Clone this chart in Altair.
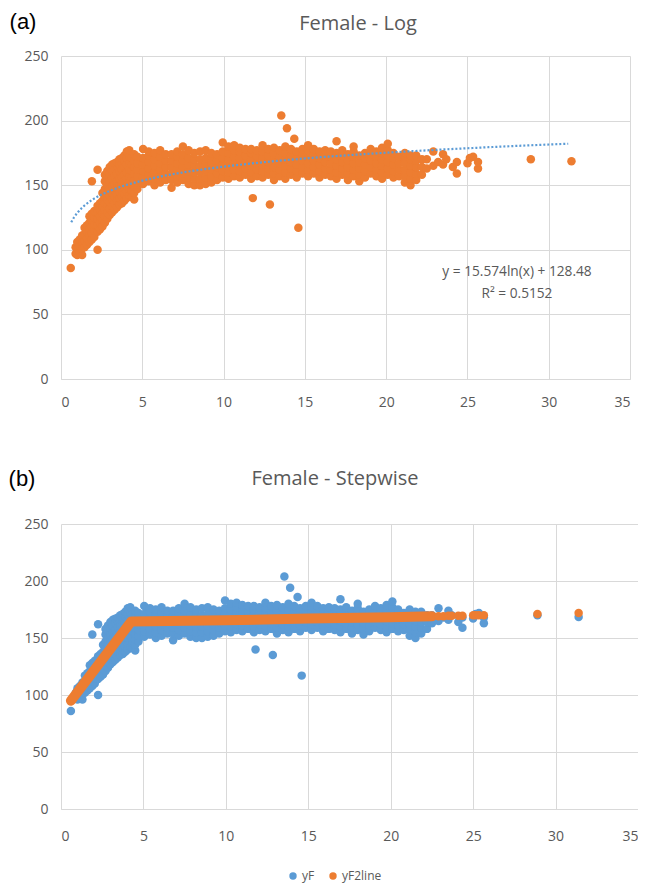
import altair as alt
import pandas as pd

BLUE = "#5B9BD5"
ORANGE = "#ED7D31"
GREY = "#595959"
GRID = "#D9D9D9"

RISE = [
    (0.6, [86]), (0.9, [97, 102]), (1.0, [96, 101, 106]), (1.15, [98, 103, 108]),
    (1.3, [96, 101, 106, 111]), (1.45, [102, 107, 112, 117]), (1.6, [104, 109, 114, 119]),
    (1.75, [106, 111, 116, 121, 126]), (1.9, [108, 113, 118, 123, 128, 153]),
    (2.05, [110, 115, 120, 125, 130]), (2.25, [100, 114, 119, 124, 129, 134, 162]),
    (2.4, [116, 121, 126, 131, 136]), (2.55, [118, 123, 128, 133, 138, 144]),
    (2.7, [121, 126, 131, 136, 141, 147, 153, 158]),
    (2.85, [124, 129, 134, 139, 144, 150, 156, 161]),
    (3.0, [127, 132, 137, 142, 147, 153, 159, 164]),
    (3.15, [129, 134, 139, 144, 149, 155, 161, 166]),
    (3.3, [131, 136, 141, 146, 151, 157, 163, 167]),
    (3.45, [133, 138, 143, 148, 153, 159, 165, 168]),
    (3.6, [135, 140, 145, 150, 155, 161, 166, 170]),
    (3.75, [136, 141, 146, 151, 156, 162, 167, 171]),
    (3.9, [138, 143, 148, 153, 158, 164, 169, 173]),
    (4.05, [140, 145, 150, 155, 160, 166, 171, 176]),
    (4.2, [142, 147, 152, 157, 162, 167, 172, 177]),
    (4.35, [141, 146, 151, 156, 161, 166, 171]),
    (4.5, [139, 144, 149, 154, 159, 164, 169, 174]),
]
BAND_A = [
    (4.7, [147, 152, 157, 162, 167, 172]), (5.05, [151, 156, 161, 166, 171, 178]),
    (5.4, [153, 158, 163, 168, 173, 176]), (5.75, [150, 155, 160, 165, 170, 175]),
    (6.1, [152, 157, 162, 167, 172, 177]), (6.45, [154, 159, 164, 169, 174]),
    (6.8, [148, 154, 159, 164, 169, 174]), (7.15, [152, 157, 162, 167, 172, 176]),
    (7.5, [154, 159, 164, 169, 174, 180]), (7.85, [151, 156, 161, 166, 171, 177]),
    (8.2, [150, 155, 160, 165, 170, 175]), (8.55, [150, 155, 160, 165, 170, 176]),
    (8.9, [151, 156, 161, 166, 171, 177]), (9.25, [152, 157, 162, 167, 172, 175]),
    (9.6, [154, 159, 164, 169, 174]),
]
BAND_B = [
    (9.95, [156, 161, 166, 171, 176, 183]), (10.3, [155, 160, 165, 170, 175, 180]),
    (10.65, [157, 162, 167, 172, 177, 181]), (11.0, [156, 161, 166, 171, 176, 179]),
    (11.35, [158, 163, 168, 173, 178]), (11.7, [155, 160, 165, 170, 175, 178]),
    (12.05, [157, 162, 167, 172, 177]), (12.4, [156, 161, 166, 171, 176, 181]),
    (12.75, [158, 163, 168, 173, 178]), (13.1, [154, 159, 164, 169, 174, 179]),
    (13.45, [157, 162, 167, 172, 177]), (13.8, [155, 160, 165, 170, 175, 180]),
    (14.15, [158, 163, 168, 173, 178]), (14.5, [156, 161, 166, 171, 176]),
    (14.85, [159, 164, 169, 174, 178]), (15.2, [157, 162, 167, 172, 177, 181]),
    (15.55, [159, 164, 169, 174, 178]),
]
BAND_C = [
    (15.9, [156, 161, 166, 171, 176]), (16.25, [158, 163, 168, 173, 177]),
    (16.6, [157, 162, 167, 172, 176]), (16.95, [155, 160, 165, 170, 175, 184]),
    (17.3, [158, 163, 168, 173, 177]), (17.65, [154, 159, 164, 169, 174]),
    (18.0, [157, 162, 167, 172, 176, 180]), (18.35, [153, 158, 163, 168, 173]),
    (18.7, [156, 161, 166, 171, 175]), (19.05, [159, 164, 169, 174, 178]),
    (19.4, [157, 162, 167, 172, 176]), (19.75, [155, 160, 165, 170, 175, 179]),
    (20.1, [158, 163, 168, 173, 177, 182]), (20.45, [156, 161, 166, 171, 175]),
    (20.8, [157, 162, 167, 172]), (21.15, [152, 157, 162, 167, 172, 175]),
    (21.5, [150, 155, 160, 165, 170, 173]), (21.85, [154, 159, 164, 169, 173]),
    (22.2, [158, 164, 170]),
]
TAIL = [
    (22.5, [163, 170]), (22.9, [165, 176]), (23.2, [168]), (23.5, [166, 174]),
    (23.7, [170]), (24.1, [164]), (24.35, [159, 168]), (25.0, [167]),
    (25.15, [171]), (25.35, [172]), (25.65, [163, 168]), (28.9, [170]), (31.4, [168.5]),
]
OUTLIERS = [
    (11.8, [140]), (12.85, [135]), (13.55, [204]), (13.9, [194]),
    (14.35, [186]), (14.6, [117]),
]

# ---- logarithmic trendline ----
TREND_X = [0.63, 0.8, 1, 1.25, 1.5, 2, 2.5, 3, 4, 5, 6, 7, 8, 10, 12, 15, 18, 21, 25, 28, 31.2]
TREND_Y = [121.3, 125, 128.5, 132, 134.8, 139.3, 142.8, 145.6, 150.1, 153.5, 156.4,
           158.8, 160.9, 164.3, 167.2, 170.7, 173.5, 175.9, 178.6, 180.4, 182.1]

# ---- stepwise fit (yF2line) ----
STEP_LINE_X = [0.6, 4.26, 10, 15, 20, 22.5]
STEP_LINE_Y = [95, 164.5, 165.6, 167, 168.3, 169]
STEP_PTS_X = [22.5, 22.9, 23.2, 23.5, 23.7, 24.1, 24.35, 25.0, 25.15, 25.35, 25.65, 28.9, 31.4]
STEP_PTS_Y = [169, 169, 169, 169.5, 169.5, 169.5, 169.5, 170, 170, 170, 170, 171, 172]

X_TICKS = [0, 5, 10, 15, 20, 25, 30, 35]
Y_TICKS = [0, 50, 100, 150, 200, 250]

xs, ys = [], []
for group in (RISE, BAND_A, BAND_B, BAND_C, TAIL, OUTLIERS):
    for x, yl in group:
        for y in yl:
            xs.append(x)
            ys.append(y)
df_yF = pd.DataFrame({"x": xs, "y": ys, "series": "yF"})
df_trend = pd.DataFrame({"x": TREND_X, "y": TREND_Y})
df_line = pd.DataFrame({"x": STEP_LINE_X, "y": STEP_LINE_Y})
df_step = pd.DataFrame({"x": STEP_PTS_X, "y": STEP_PTS_Y, "series": "yF2line"})

FONT = "Open Sans"
DOT = 72


def xenc(pad):
    return alt.X("x:Q", scale=alt.Scale(domain=[0, 35], nice=False, zero=False),
                 axis=alt.Axis(values=X_TICKS, title=None, grid=True, gridColor=GRID,
                               domainColor=GRID, ticks=False, labelPadding=pad,
                               labelColor=GREY, labelFont=FONT, labelFontSize=14))


def yenc():
    return alt.Y("y:Q", scale=alt.Scale(domain=[0, 250], nice=False),
                 axis=alt.Axis(values=Y_TICKS, title=None, grid=True, gridColor=GRID,
                               domain=False, ticks=False, labelPadding=13,
                               labelColor=GREY, labelFont=FONT, labelFontSize=14))


def label(text, x, y, size, color, font):
    return alt.Chart(pd.DataFrame({"t": [text]})).mark_text(
        font=font, fontSize=size, color=color, align="center", baseline="middle"
    ).encode(x=alt.value(x), y=alt.value(y), text="t:N")


# ---- panel (a) ----
pts_a = alt.Chart(df_yF).mark_circle(size=DOT, opacity=1, color=ORANGE).encode(
    x=xenc(16), y=yenc())
trend_a = alt.Chart(df_trend).mark_line(color=BLUE, strokeDash=[2, 2], strokeWidth=2.2,
                                        interpolate="monotone").encode(x="x:Q", y="y:Q")
panel_a = alt.layer(
    pts_a, trend_a,
    label("y = 15.574ln(x) + 128.48", 456, 216, 13.7, GREY, FONT),
    label("R² = 0.5152", 456, 238, 13.7, GREY, FONT),
    label("(a)", -38, -34, 22, "#000000", "Liberation Sans"),
    label("Female - Log", 297, -32, 20, GREY, FONT),
).properties(width=569, height=323)

# ---- panel (b) ----
cscale = alt.Scale(domain=["yF", "yF2line"], range=[BLUE, ORANGE])
leg = alt.Legend(title=None, orient="none", legendX=226, legendY=346, direction="horizontal",
                 symbolType="circle", symbolSize=55, labelFont=FONT, labelFontSize=12,
                 labelColor=GREY, columnPadding=12, labelOffset=3)
pts_b = alt.Chart(df_yF).mark_circle(size=DOT, opacity=1).encode(
    x=xenc(20), y=yenc(), color=alt.Color("series:N", scale=cscale, legend=leg))
line_b = alt.Chart(df_line).mark_line(color=ORANGE, strokeWidth=10, strokeCap="round",
                                      strokeJoin="round").encode(x="x:Q", y="y:Q")
step_b = alt.Chart(df_step).mark_circle(size=DOT, opacity=1).encode(
    x="x:Q", y="y:Q", color=alt.Color("series:N", scale=cscale, legend=leg))
panel_b = alt.layer(
    pts_b, line_b, step_b,
    label("(b)", -39, -45, 22, "#000000", "Liberation Sans"),
    label("Female - Stepwise", 274, -45, 20, GREY, FONT),
).properties(width=577, height=285)

chart = alt.vconcat(panel_a, panel_b, spacing=59).resolve_scale(
    color="independent").properties(
    padding={"top": 3, "left": 0, "right": 0, "bottom": 6}).configure_view(stroke=None)

chart.save("out.html", embed_options={"renderer": "svg", "actions": False})
